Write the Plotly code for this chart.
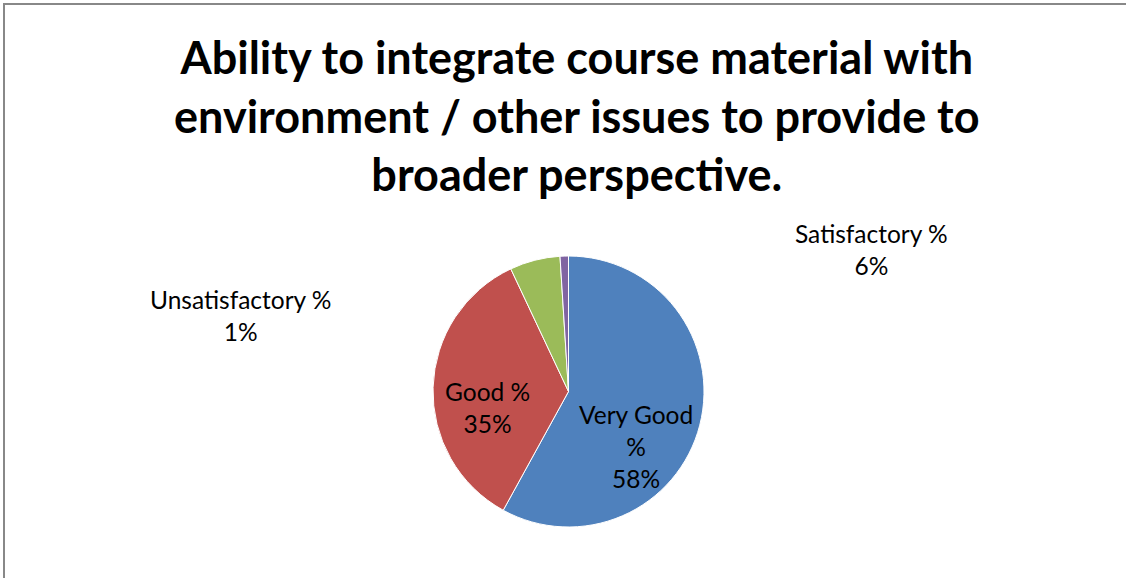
import plotly.graph_objects as go

# chart data
categories = ["Very Good %", "Good %", "Satisfactory %", "Unsatisfactory %"]
shares = [58, 35, 6, 1]
slice_colors = ["#4F81BD", "#C0504D", "#9BBB59", "#8064A2"]

title_lines = ["Ability to integrate course material with",
               "environment / other issues to provide to",
               "broader perspective."]

W, H = 1126, 578


def px(x, y):
    """ pixel position -> paper coords (margins are zero) """
    return x / W, 1 - y / H


fig = go.Figure(go.Pie(
    labels=categories,
    values=shares,
    marker=dict(colors=slice_colors, line=dict(color="white", width=1)),
    sort=False,
    direction="clockwise",
    rotation=0,
    textinfo="none",
    hoverinfo="label+percent",
    showlegend=False,
    domain=dict(x=[433 / W, 704 / W], y=[1 - 527 / H, 1 - 256 / H]),
))

# title, as a 3-line annotation so the lines sit where excel put them
tx, ty = px(576.5, 115)
fig.add_annotation(x=tx, y=ty, xref="paper", yref="paper",
                   text="<b>" + "<br>".join(title_lines) + "</b>",
                   showarrow=False, xanchor="center", yanchor="middle",
                   font=dict(family="Lato", size=45, color="black"))

# data labels, placed like the excel chart (first one wraps in the original)
label_pos = [(636, 446), (487, 407), (871, 249), (241, 315)]
label_text = ["{}<br>{}%".format(c, v) for c, v in zip(categories, shares)]
label_text[0] = label_text[0].replace("Very Good ", "Very Good<br>")
for (x, y), t in zip(label_pos, label_text):
    ax, ay = px(x, y)
    fig.add_annotation(x=ax, y=ay, xref="paper", yref="paper", text=t,
                       showarrow=False, xanchor="center", yanchor="middle",
                       font=dict(family="Lato", size=24.5, color="black"))

fig.update_layout(
    width=W, height=H,
    margin=dict(l=0, r=0, t=0, b=0),
    paper_bgcolor="white",
    plot_bgcolor="white",
    font=dict(family="Lato", color="black"),
    shapes=[dict(type="rect", xref="paper", yref="paper",
                 x0=4 / W, x1=1127 / W, y0=-0.05, y1=1 - 4 / H,
                 line=dict(color="#888888", width=2))],
)

# page body has an 8px margin by default, drop it so the chart fills the window
fig.write_html("out.html", config={"displayModeBar": False},
               post_script="document.body.style.margin='0';")
